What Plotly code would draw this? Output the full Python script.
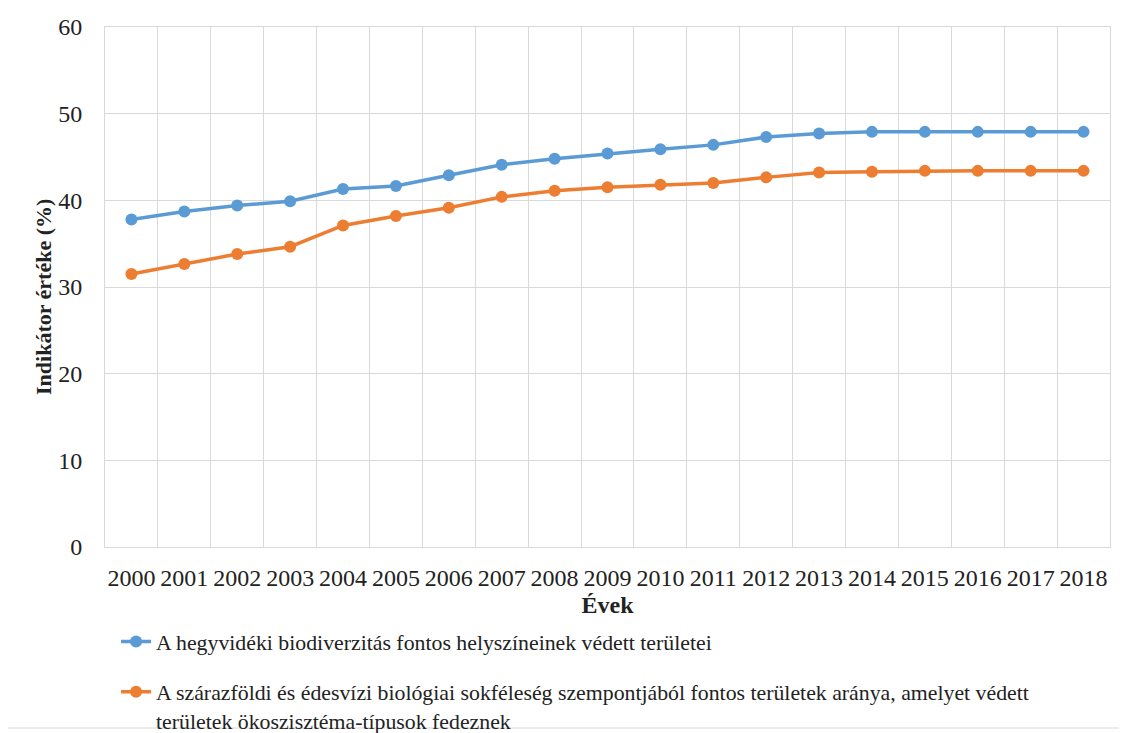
import plotly.graph_objects as go

years = list(range(2000, 2019))
mountain = [37.8, 38.7, 39.4, 39.9, 41.3, 41.65, 42.9, 44.1, 44.8, 45.4, 45.9, 46.4,
            47.3, 47.7, 47.9, 47.9, 47.9, 47.9, 47.9]
terrestrial = [31.5, 32.65, 33.8, 34.65, 37.1, 38.2, 39.15, 40.4, 41.1, 41.5, 41.8, 42.0,
               42.65, 43.2, 43.3, 43.4, 43.4, 43.4, 43.4]
names = [
    "A hegyvidéki biodiverzitás fontos helyszíneinek védett területei",
    "A szárazföldi és édesvízi biológiai sokféleség szempontjából fontos területek aránya, amelyet védett<br>területek ökoszisztéma-típusok fedeznek",
]
colors = ["#5B9BD5", "#ED7D31"]

fig = go.Figure()
for i, (vals, nm, c) in enumerate(zip([mountain, terrestrial], names, colors)):
    fig.add_trace(go.Scatter(
        x=years, y=vals, name=nm, mode="lines+markers",
        line=dict(color=c, width=3.5), marker=dict(color=c, size=12),
        legendgroup=f"g{i}",
    ))

font = "Liberation Serif, Times New Roman, serif"
fig.update_layout(
    width=1119, height=725,
    margin=dict(l=97, r=17, t=19, b=186, autoexpand=False),
    paper_bgcolor="white", plot_bgcolor="white",
    font=dict(family=font, color="#222", size=24),
    showlegend=True,
    legend=dict(
        orientation="v", x=0.011, y=-0.142, xanchor="left", yanchor="top",
        font=dict(size=21.8, family=font, color="#222"),
        tracegroupgap=19, itemwidth=30, bgcolor="rgba(0,0,0,0)", valign="top",
    ),
    xaxis=dict(
        range=[1999.5, 2018.5], tickmode="array", tickvals=years,
        ticktext=[str(y) for y in years], showgrid=False, zeroline=False,
        ticks="", ticklabelstandoff=9, automargin=False,
        tickfont=dict(size=24, family=font),
        minor=dict(tick0=1999.5, dtick=1, showgrid=True, gridcolor="#d9d9d9", gridwidth=1),
        showline=True, linecolor="#d9d9d9", linewidth=1, mirror=True,
        title=dict(text="<b>Évek</b>", font=dict(size=24, family=font), standoff=6),
    ),
    yaxis=dict(
        range=[0, 60], dtick=10, showgrid=True, gridcolor="#d9d9d9", gridwidth=1,
        zeroline=False, ticks="", ticklabelstandoff=17, automargin=False,
        tickfont=dict(size=24, family=font),
        showline=True, linecolor="#d9d9d9", linewidth=1, mirror=True,
    ),
)
fig.add_annotation(text="<b>Indikátor értéke (%)</b>", textangle=-90, showarrow=False,
                   xref="paper", yref="paper", x=(44 - 105) / 1005, y=(547 - 297) / 520,
                   xanchor="center", yanchor="middle",
                   font=dict(size=22, family=font, color="#222"))
fig.add_shape(type="rect", xref="paper", yref="paper",
              x0=(7 - 105) / 1005, x1=(1120 - 105) / 1005,
              y0=-(728 - 547) / 520, y1=1 + (27 - 6) / 520,
              line=dict(color="#d9d9d9", width=1), fillcolor="rgba(0,0,0,0)", layer="below")
fig.write_html("out.html")
